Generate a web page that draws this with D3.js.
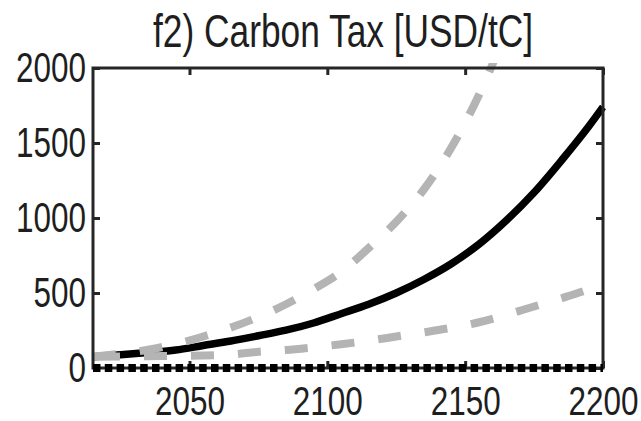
<!DOCTYPE html>
<html>
<head>
<meta charset="utf-8">
<script src="https://cdn.jsdelivr.net/npm/d3@7"></script>
<style>
  html, body { margin: 0; padding: 0; background: #fff; }
  svg { display: block; }
  text { font-family: "Liberation Sans", Arial, sans-serif; fill: #1e1e1e; }
</style>
</head>
<body>
<script>
// Carbon tax pathways, USD per tonne of carbon
const years = [2015, 2025, 2035, 2045, 2055, 2065, 2075, 2085, 2095, 2105,
               2115, 2125, 2135, 2145, 2155, 2165, 2175, 2185, 2195, 2200];
const central = [75, 88, 103, 120, 150, 180, 215, 252, 300, 362,
                 425, 500, 590, 695, 825, 985, 1170, 1385, 1615, 1740];
const low = [75, 77, 79, 80, 83, 90, 108, 120, 138, 158,
             182, 210, 238, 268, 305, 355, 410, 465, 525, 555];
const highYears = [2015, 2025, 2035, 2045, 2055, 2065, 2075, 2085, 2095, 2105,
                   2115, 2125, 2135, 2145, 2155, 2165];
const high = [75, 95, 122, 160, 210, 270, 340, 425, 525, 640,
              800, 975, 1190, 1470, 1820, 2250];
const zeroYears = [2015, 2200];
const zero = [0, 0];

const xTicks = [2050, 2100, 2150, 2200];
const yTicks = [0, 500, 1000, 1500, 2000];
const title = "f2) Carbon Tax [USD/tC]";

const W = 641, H = 421;
const m = { left: 93, right: 38, top: 68, bottom: 53 };

const svg = d3.select("body").append("svg").attr("width", W).attr("height", H);

const x = d3.scaleLinear().domain([2015, 2200]).range([m.left, W - m.right]);
const y = d3.scaleLinear().domain([0, 2000]).range([H - m.bottom, m.top]);

svg.append("defs").append("clipPath").attr("id", "plotclip")
  .append("rect")
  .attr("x", m.left - 4).attr("y", m.top - 5)
  .attr("width", W - m.left - m.right + 8).attr("height", H - m.top - m.bottom + 10);

const line = d3.line().x(d => x(d[0])).y(d => y(d[1])).curve(d3.curveMonotoneX);
const pairs = (xs, ys) => xs.map((v, i) => [v, ys[i]]);

const plot = svg.append("g").attr("clip-path", "url(#plotclip)");

plot.append("path")
  .attr("d", line(pairs(years, central)))
  .attr("fill", "none").attr("stroke", "#000").attr("stroke-width", 7.5);

plot.append("path")
  .attr("d", line(pairs(years, low)))
  .attr("fill", "none").attr("stroke", "#b4b4b4").attr("stroke-width", 8)
  .attr("stroke-dasharray", "23,24").attr("stroke-dashoffset", 43);

plot.append("path")
  .attr("d", line(pairs(highYears, high)))
  .attr("fill", "none").attr("stroke", "#b4b4b4").attr("stroke-width", 8)
  .attr("stroke-dasharray", "23,24");

// axes with inward ticks on all four sides
const tickFmt = d => String(d);
function styleLabels(g, per, size) {
  g.selectAll("text")
    .attr("font-size", size)
    .attr("fill", "#1e1e1e")
    .attr("textLength", function () { return this.textContent.length * per; })
    .attr("lengthAdjust", "spacingAndGlyphs");
}

const yAxis = svg.append("g").attr("transform", `translate(${m.left},0)`)
  .call(d3.axisLeft(y).tickValues(yTicks).tickFormat(tickFmt).tickSize(-7).tickPadding(7));
const yAxisR = svg.append("g").attr("transform", `translate(${W - m.right},0)`)
  .call(d3.axisRight(y).tickValues(yTicks).tickFormat("").tickSize(-7));
const xAxis = svg.append("g").attr("transform", `translate(0,${H - m.bottom})`)
  .call(d3.axisBottom(x).tickValues(xTicks).tickFormat(tickFmt).tickSize(-7).tickPadding(18));
const xAxisT = svg.append("g").attr("transform", `translate(0,${m.top})`)
  .call(d3.axisTop(x).tickValues(xTicks).tickFormat("").tickSize(-7));

[yAxis, yAxisR, xAxis, xAxisT].forEach(g => {
  g.select(".domain").remove();
  g.selectAll(".tick line").attr("stroke", "#262626").attr("stroke-width", 3);
});
styleLabels(yAxis, 17.5, 42);
styleLabels(xAxis, 17.5, 41);

// frame
svg.append("rect")
  .attr("x", m.left).attr("y", m.top)
  .attr("width", W - m.left - m.right).attr("height", H - m.top - m.bottom)
  .attr("fill", "none").attr("stroke", "#262626").attr("stroke-width", 3);

// zero-tax reference, dotted
svg.append("path")
  .attr("d", d3.line().x(d => x(d[0])).y(d => y(d[1]))(pairs(zeroYears, zero)))
  .attr("fill", "none").attr("stroke", "#000").attr("stroke-width", 8)
  .attr("stroke-dasharray", "7.5,4.3");

// title
svg.append("text")
  .attr("x", (m.left + 593) / 2).attr("y", 47)
  .attr("text-anchor", "middle")
  .attr("font-size", 46)
  .attr("textLength", 380).attr("lengthAdjust", "spacingAndGlyphs")
  .text(title);
</script>
</body>
</html>
